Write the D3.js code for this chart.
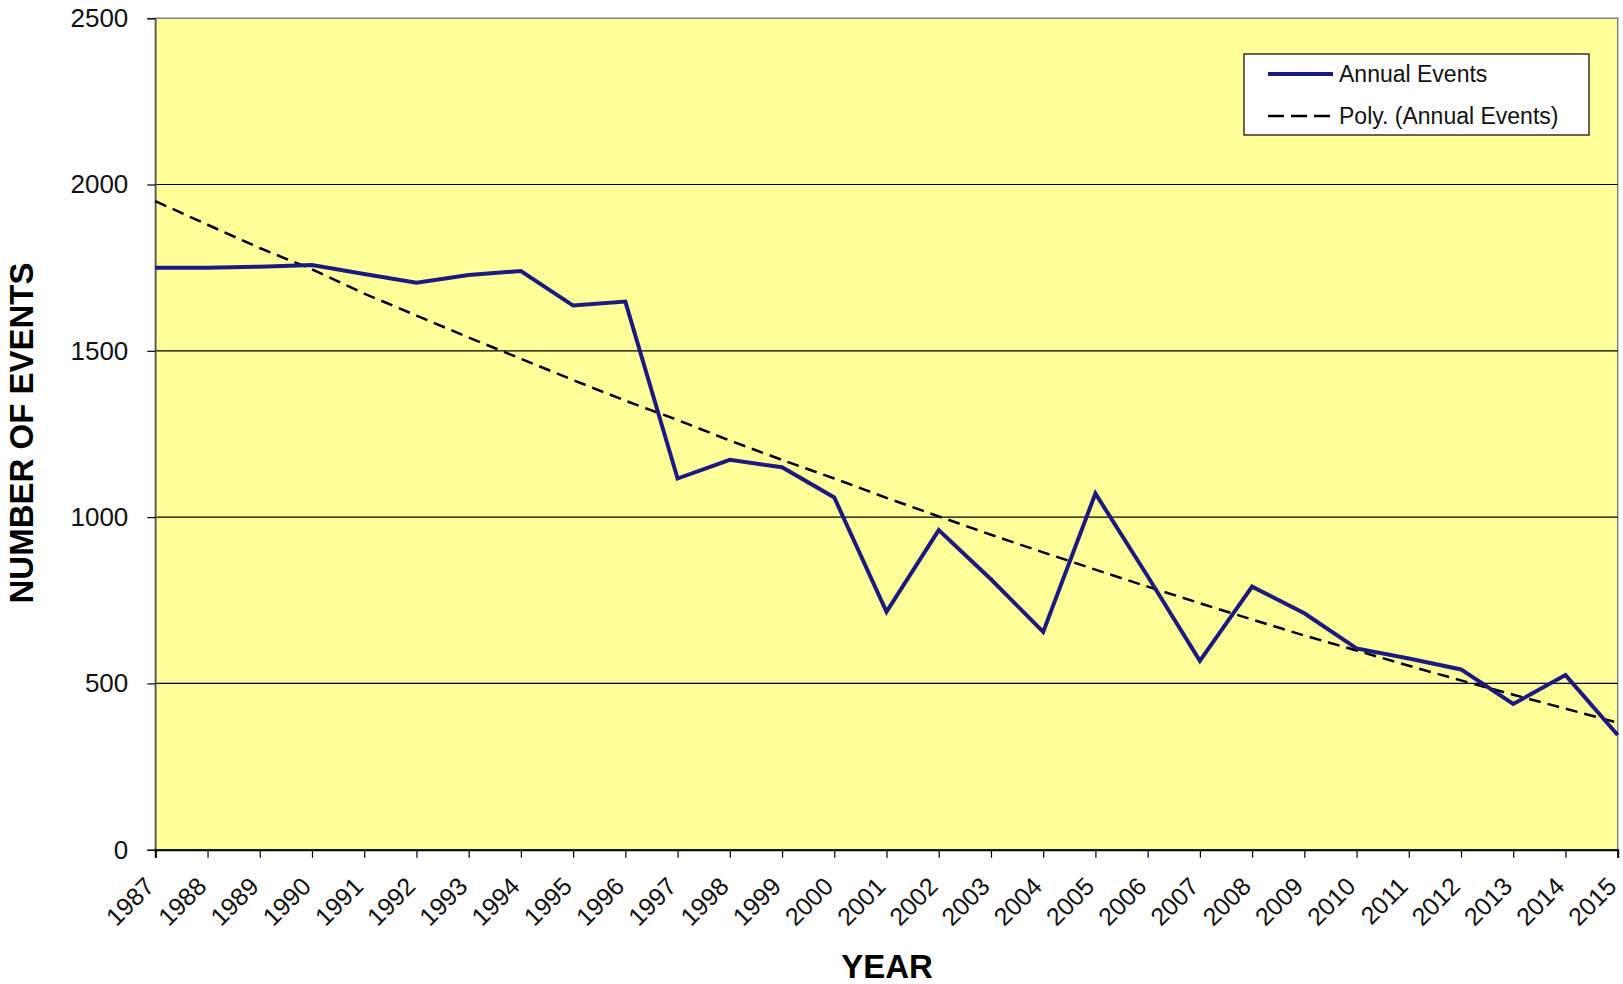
<!DOCTYPE html>
<html>
<head>
<meta charset="utf-8">
<script src="https://cdn.jsdelivr.net/npm/d3@7"></script>
<style>
  html, body { margin: 0; padding: 0; background: #ffffff; }
  svg { display: block; font-family: "Liberation Sans", Arial, sans-serif; }
</style>
</head>
<body>
<svg id="chart" width="1623" height="984"></svg>
<script>
// ---- data ----
const years = [1987,1988,1989,1990,1991,1992,1993,1994,1995,1996,1997,1998,1999,2000,
               2001,2002,2003,2004,2005,2006,2007,2008,2009,2010,2011,2012,2013,2014,2015];
const annualEvents = [1750,1750,1753,1758,1731,1705,1728,1740,1636,1648,1116,1172,1150,1059,
                      715,961,813,655,1071,822,568,791,711,605,575,542,438,525,345];
const polyTrend = [1950,1879,1809,1745,1672,1606,1540,1476,1412,1350,1292,1230,1172,1116,
                   1058,1002,947,894,842,791,741,692,644,599,553,509,466,424,382];
const yTicks = [0,500,1000,1500,2000,2500];
const seriesNames = ["Annual Events", "Poly. (Annual Events)"];
const xTitle = "YEAR";
const yTitle = "NUMBER OF EVENTS";

// ---- layout ----
const W = 1623, H = 984;
const plot = { left: 155.3, right: 1617.7, top: 18.2, bottom: 849.7 };

const svg = d3.select("#chart");
const x = d3.scaleLinear().domain([years[0], years[years.length-1]]).range([plot.left, plot.right]);
const y = d3.scaleLinear().domain([0, 2500]).range([plot.bottom, plot.top]);

// plot background
svg.append("rect")
  .attr("x", plot.left).attr("y", plot.top)
  .attr("width", plot.right - plot.left).attr("height", plot.bottom - plot.top)
  .attr("fill", "#FFFF99").attr("stroke", "#808080").attr("stroke-width", 1.5);

// gridlines
svg.append("g").selectAll("line")
  .data(yTicks.filter(d => d > 0 && d < 2500))
  .join("line")
  .attr("x1", plot.left).attr("x2", plot.right)
  .attr("y1", d => y(d)).attr("y2", d => y(d))
  .attr("stroke", "#000000").attr("stroke-width", 1.2);

// y axis
const yAxis = d3.axisLeft(y).tickValues(yTicks).tickSize(8).tickPadding(19).tickFormat(d3.format("d"));
const gy = svg.append("g").attr("transform", `translate(${plot.left},0)`).call(yAxis);
gy.select(".domain").attr("stroke", "#555555").attr("stroke-width", 1.5);
gy.selectAll(".tick line").attr("stroke", "#000000").attr("stroke-width", 1.2);
gy.selectAll(".tick text").attr("font-size", 26).attr("fill", "#111111")
  .attr("font-family", "'Liberation Sans', Arial, sans-serif");

// x axis
const xAxis = d3.axisBottom(x).tickValues(years).tickSize(8).tickFormat(d3.format("d"));
const gx = svg.append("g").attr("transform", `translate(0,${plot.bottom})`).call(xAxis);
gx.select(".domain").attr("stroke", "#000000").attr("stroke-width", 2);
gx.selectAll(".tick line").attr("stroke", "#000000").attr("stroke-width", 1.2);
gx.selectAll(".tick text")
  .attr("font-size", 25).attr("fill", "#111111")
  .attr("font-family", "'Liberation Sans', Arial, sans-serif")
  .attr("text-anchor", "end")
  .attr("dy", null).attr("y", null)
  .attr("transform", `translate(0,${888 - plot.bottom}) rotate(-45)`);

// trend line (dashed)
const line = d3.line().x((d, i) => x(years[i])).y(d => y(d));
svg.append("path")
  .datum(polyTrend)
  .attr("d", line)
  .attr("fill", "none").attr("stroke", "#000000")
  .attr("stroke-width", 2.5).attr("stroke-dasharray", "12,7");

// annual events line
svg.append("path")
  .datum(annualEvents)
  .attr("d", line)
  .attr("fill", "none").attr("stroke", "#1a1a80")
  .attr("stroke-width", 4).attr("stroke-linejoin", "miter");

// axis titles
svg.append("text")
  .attr("x", 887).attr("y", 978)
  .attr("text-anchor", "middle").attr("font-size", 33).attr("font-weight", "bold")
  .attr("fill", "#000000").text(xTitle);
svg.append("text")
  .attr("transform", "translate(33,433) rotate(-90)")
  .attr("text-anchor", "middle").attr("font-size", 33).attr("font-weight", "bold")
  .attr("fill", "#000000").text(yTitle);

// legend
const lg = svg.append("g");
lg.append("rect").attr("x", 1244).attr("y", 54).attr("width", 345).attr("height", 81)
  .attr("fill", "#ffffff").attr("stroke", "#000000").attr("stroke-width", 1.2);
const legendRows = [
  { name: seriesNames[0], y: 74, stroke: "#1a1a80", width: 4, dash: null },
  { name: seriesNames[1], y: 116, stroke: "#000000", width: 2.5, dash: "16,7" }
];
legendRows.forEach(r => {
  lg.append("line").attr("x1", 1268).attr("x2", 1333).attr("y1", r.y).attr("y2", r.y)
    .attr("stroke", r.stroke).attr("stroke-width", r.width)
    .attr("stroke-dasharray", r.dash);
  lg.append("text").attr("x", 1339).attr("y", r.y + 8)
    .attr("font-size", 23).attr("fill", "#111111").text(r.name);
});
</script>
</body>
</html>
